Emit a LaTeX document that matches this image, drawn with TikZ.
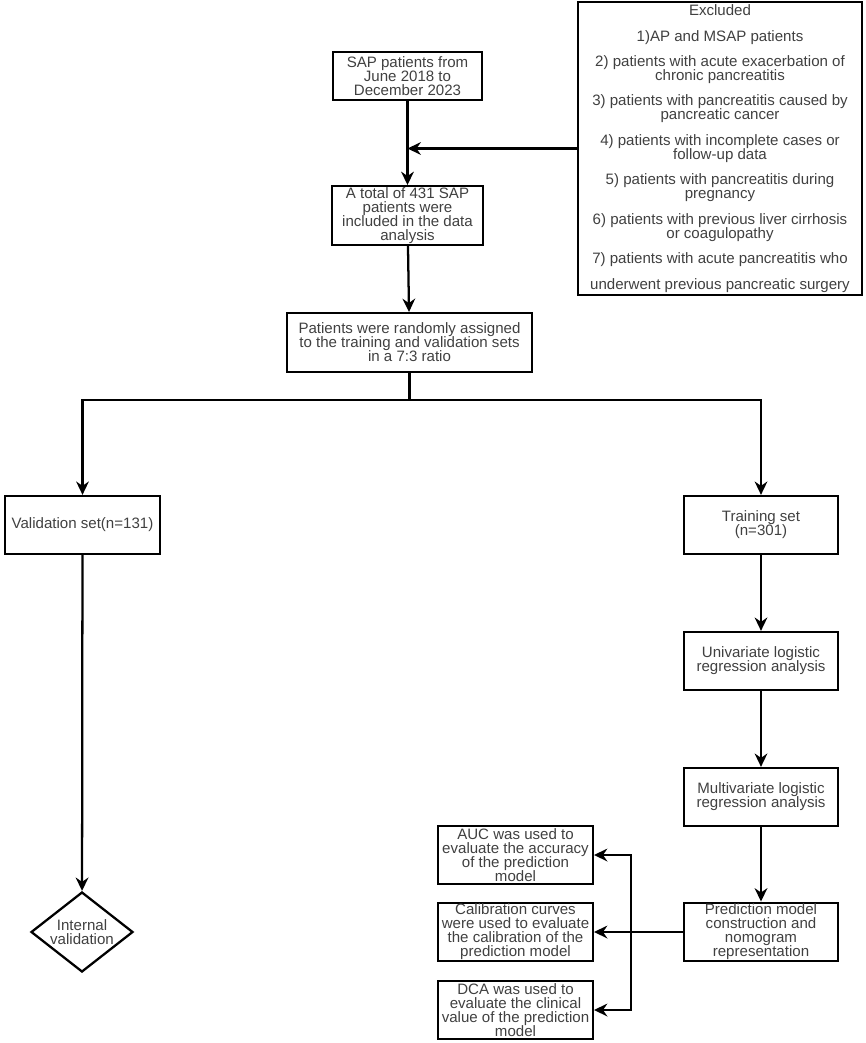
\documentclass[tikz,border=0pt]{standalone}
\usepackage{fontspec}
\setmainfont{Liberation Sans}
\usetikzlibrary{arrows.meta, positioning, shapes.geometric}

\newcommand{\boxfont}{\fontsize{11.3}{10.5}\selectfont\lineskiplimit=-6pt}

\begin{document}
\begin{tikzpicture}[
    x=0.75pt, y=-0.75pt,
    >={Stealth[length=10pt, width=9.5pt]},
    box/.style={rectangle, draw, line width=1.7pt, align=center,
        inner xsep=1pt, inner ysep=0.3pt,
        text=black!75, font=\boxfont,
        minimum width=116pt, minimum height=43.5pt},
    arrow/.style={->, line width=1.7pt},
    link/.style={line width=1.7pt}
]
\useasboundingbox (0,0) rectangle (865,1043);

% === Inclusion and exclusion ===
\node[box, minimum width=112pt, minimum height=36pt] (sap) at (407.5,76)
    {SAP patients from\\June 2018 to\\December 2023};
\node[box, minimum width=113pt, minimum height=44pt] (total) at (407.5,215.5)
    {A total of 431 SAP\\patients were\\included in the data\\analysis};
\node[box, minimum width=213pt, minimum height=220pt] (excl) at (720,148.5)
    {Excluded\\[8.6pt]
     1)AP and MSAP patients\\[8.6pt]
     2) patients with acute exacerbation of\\chronic pancreatitis\\[8.6pt]
     3) patients with pancreatitis caused by\\pancreatic cancer\\[8.6pt]
     4) patients with incomplete cases or\\follow-up data\\[8.6pt]
     5) patients with pancreatitis during\\pregnancy\\[8.6pt]
     6) patients with previous liver cirrhosis\\or coagulopathy\\[8.6pt]
     7) patients with acute pancreatitis who\\[8.6pt]
     underwent previous pancreatic surgery};
\node[box, minimum width=184pt, minimum height=44pt] (rand) at (409.5,342.5)
    {Patients were randomly assigned\\to the training and validation sets\\in a 7:3 ratio};

\draw[arrow] (sap) -- (total);
\coordinate (join) at (sap.south |- excl.west);
\draw[arrow] (excl.west) -- (join);
\draw[arrow] (total) -- (rand);

% === Split ===
\coordinate (split) at (409.5,400);
\node[box] (valid) at (82.5,525) {Validation set(n=131)};
\node[box] (train) at (761,525) {Training set\\(n=301)};
\draw[link] (rand.south) -- (split);
\draw[arrow] (split) -| (valid.north);
\draw[arrow] (split) -| (train.north);

% === Validation branch ===
\node[diamond, draw, line width=1.7pt, aspect=1.3, minimum width=76.5pt,
    minimum height=60pt, inner sep=0pt, align=center, text=black!75,
    font=\boxfont] (intval) at (82,932) {Internal\\validation};
\draw[arrow] (valid) -- (intval);

% === Training branch ===
\node[box, minimum width=115pt] (uni) at (761,661) {Univariate logistic\\regression analysis};
\node[box, minimum width=115pt] (multi) at (761,797) {Multivariate logistic\\regression analysis};
\node[box, minimum width=115pt, minimum height=44pt] (pred) at (761,932)
    {Prediction model\\construction and\\nomogram\\representation};
\draw[arrow] (train) -- (uni);
\draw[arrow] (uni) -- (multi);
\draw[arrow] (multi) -- (pred);

% === Evaluation ===
\node[box] (auc) at (515.5,855) {AUC was used to\\evaluate the accuracy\\of the prediction\\model};
\node[box] (calib) at (515.5,932) {Calibration curves\\were used to evaluate\\the calibration of the\\prediction model};
\node[box] (dca) at (515.5,1010) {DCA was used to\\evaluate the clinical\\value of the prediction\\model};

\coordinate (spine) at (631,932);
\draw[arrow] (pred.west) -- (calib.east);
\draw[arrow] (spine) |- (auc.east);
\draw[arrow] (spine) |- (dca.east);

\end{tikzpicture}
\end{document}
